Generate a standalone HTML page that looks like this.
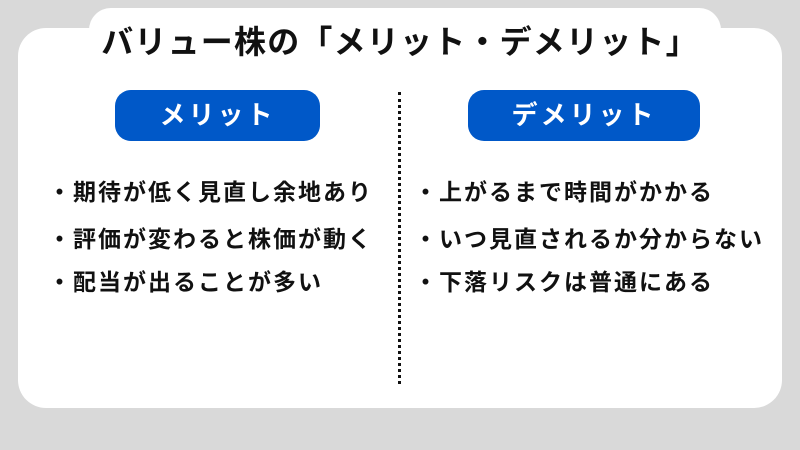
<!DOCTYPE html>
<html><head><meta charset="utf-8"><style>
body{margin:0;width:800px;height:450px;background:#d9d9d9;position:relative;overflow:hidden;font-family:"Liberation Sans","Noto Sans CJK JP",sans-serif;font-weight:bold;}
.card{position:absolute;left:18px;top:28px;width:764px;height:380px;background:#fff;border-radius:28px;}
.tab{position:absolute;left:89px;top:8px;width:632px;height:60px;background:#fff;border-radius:22px 22px 0 0;}
.title{position:absolute;left:0;width:800px;top:17px;text-align:center;font-size:32px;color:#111;letter-spacing:1.2px;}
.pill{position:absolute;top:90px;height:51px;background:#0058c8;border-radius:16px;color:#fff;font-size:26px;text-align:center;line-height:51px;letter-spacing:3px;}
.dots{position:absolute;left:398px;top:92px;height:292px;border-left:3px dotted #111;}
.item{position:absolute;font-size:23px;color:#111;white-space:nowrap;letter-spacing:2px;}
</style></head><body>
<div class="card"></div><div class="tab"></div>
<div class="title">バリュー株の「メリット・デメリット」</div>
<div class="pill" style="left:115px;width:205px">メリット</div>
<div class="pill" style="left:468px;width:232px">デメリット</div>
<div class="dots"></div>
<div class="item" style="left:48px;top:173px">・期待が低く見直し余地あり</div>
<div class="item" style="left:48px;top:220px">・評価が変わると株価が動く</div>
<div class="item" style="left:48px;top:263px">・配当が出ることが多い</div>
<div class="item" style="left:414px;top:173px">・上がるまで時間がかかる</div>
<div class="item" style="left:414px;top:220px">・いつ見直されるか分からない</div>
<div class="item" style="left:414px;top:263px">・下落リスクは普通にある</div>
</body></html>
